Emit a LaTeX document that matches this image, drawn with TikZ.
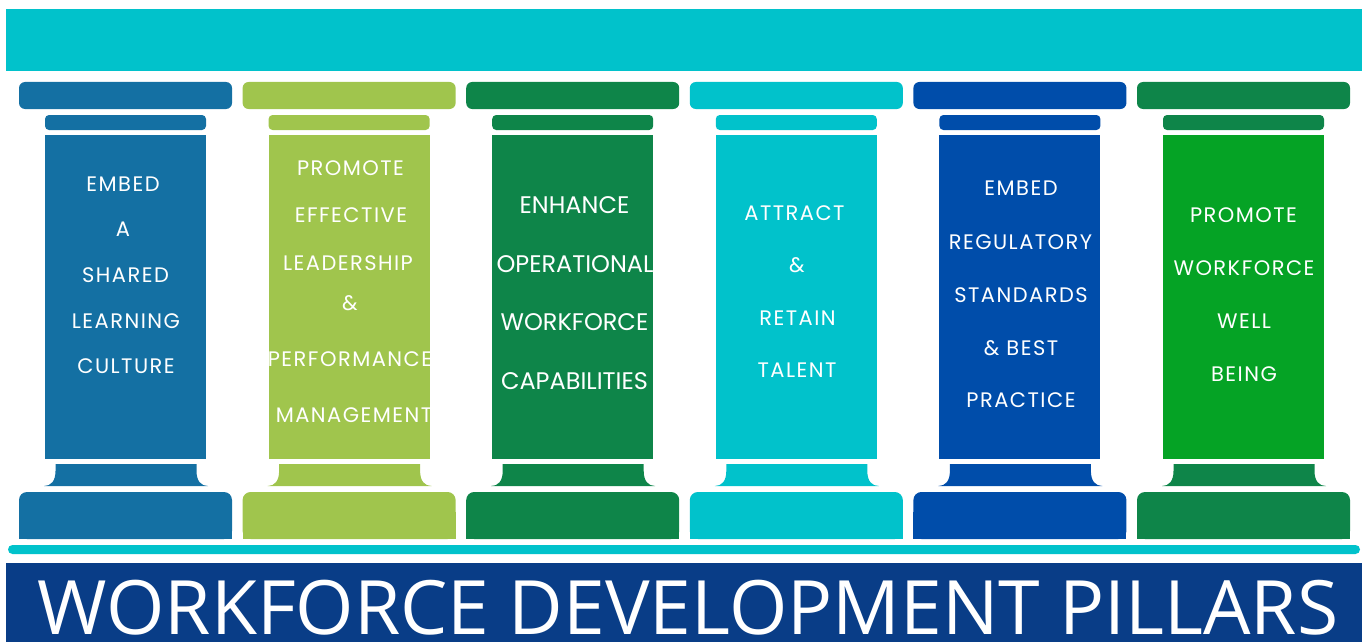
\documentclass[tikz,border=0pt]{standalone}
\usepackage{fontspec}
\setmainfont{Poppins}
\newfontfamily\spacedfont{Poppins}[LetterSpace=7]
\newfontfamily\titlefont{Open Sans}
\definecolor{pBlue}{HTML}{1470A3}
\definecolor{pLime}{HTML}{A0C54D}
\definecolor{pGreen}{HTML}{0E8549}
\definecolor{pCyan}{HTML}{01C2CB}
\definecolor{pRoyal}{HTML}{004DAA}
\definecolor{pLeaf}{HTML}{05A325}
\definecolor{titleBlue}{HTML}{093D87}
\tikzset{
  lbl/.style={text=white, anchor=base, inner sep=0pt, font={\spacedfont\fontsize{21}{25}\selectfont}},
  lblbig/.style={lbl, font={\rmfamily\fontsize{24}{28}\selectfont}},
}
\begin{document}
\begin{tikzpicture}[x=1pt,y=-1pt]
\useasboundingbox (0,0) rectangle (1366,642);
% entablature
\fill[pCyan] (6,9) rectangle (1362,71);
% six pillars: capital slabs, shaft, flared foot and plinth
\foreach \i/\col/\shaft in {0/pBlue/pBlue,1/pLime/pLime,2/pGreen/pGreen,3/pCyan/pCyan,4/pRoyal/pRoyal,5/pGreen/pLeaf}{
  \pgfmathsetmacro\L{19+223.6*\i}
  \fill[\col, rounded corners=6] (\L,82) rectangle ++(213,27);
  \fill[\col, rounded corners=4] (\L+26,115) rectangle ++(161,15);
  \fill[\shaft] (\L+26,134.5) rectangle ++(161,324.5);
  \fill[\col] (\L+36.5,464) -- (\L+36.5,471)
     .. controls (\L+36.5,481) and (\L+32,486) .. (\L+25,486)
     -- (\L+189,486)
     .. controls (\L+182,486) and (\L+177.5,481) .. (\L+177.5,471)
     -- (\L+177.5,464) -- cycle;
  \fill[\col, rounded corners=8] (\L,492) rectangle ++(213,47);
  \fill[\col] (\L,512) rectangle ++(213,27);
}
% floor line and title bar
\fill[pCyan, rounded corners=4.5] (8,545) rectangle (1360,554);
\fill[titleBlue] (6,563) rectangle (1362,642);
\node[anchor=base, text=white, inner sep=0pt, text depth=0pt, font={\titlefont\fontsize{75}{80}\selectfont}] (title) at (688,634) {WORKFORCE DEVELOPMENT PILLARS};
% pillar 1
\node[lbl] (a1) at (123,191.7) {EMBED};
\node[lbl] (a2) at (123,236.7) {A};
\node[lbl] (a3) at (125.5,282.5) {SHARED};
\node[lbl] (a4) at (126,328) {LEARNING};
\node[lbl] (a5) at (126,373) {CULTURE};
% pillar 2
\node[lbl] (b1) at (350.5,175) {PROMOTE};
\node[lbl] (b2) at (351,222.5) {EFFECTIVE};
\node[lbl] (b3) at (348,270.5) {LEADERSHIP};
\node[lbl] (b4) at (350,310) {\&};
\node[lbl] (b5) at (350,366.5) {PERFORMANCE};
\node[lbl] (b6) at (354,422.5) {MANAGEMENT};
% pillar 3
\node[lblbig] (c1) at (574.5,213.5) {ENHANCE};
\node[lblbig] (c2) at (575,272) {OPERATIONAL};
\node[lblbig] (c3) at (574.5,330) {WORKFORCE};
\node[lblbig] (c4) at (574.5,389) {CAPABILITIES};
% pillar 4
\node[lbl] (d1) at (794.5,220) {ATTRACT};
\node[lbl] (d2) at (797,272.5) {\&};
\node[lbl] (d3) at (797.5,325.5) {RETAIN};
\node[lbl] (d4) at (797,377) {TALENT};
% pillar 5
\node[lbl] (e1) at (1021,195.7) {EMBED};
\node[lbl] (e2) at (1020.5,249.5) {REGULATORY};
\node[lbl] (e3) at (1021,302) {STANDARDS};
\node[lbl] (e4) at (1021,355) {\& BEST};
\node[lbl] (e5) at (1021,407) {PRACTICE};
% pillar 6
\node[lbl] (f1) at (1243.5,222.5) {PROMOTE};
\node[lbl] (f2) at (1244,275) {WORKFORCE};
\node[lbl] (f3) at (1244,328) {WELL};
\node[lbl] (f4) at (1244,381) {BEING};
\end{tikzpicture}
\end{document}
